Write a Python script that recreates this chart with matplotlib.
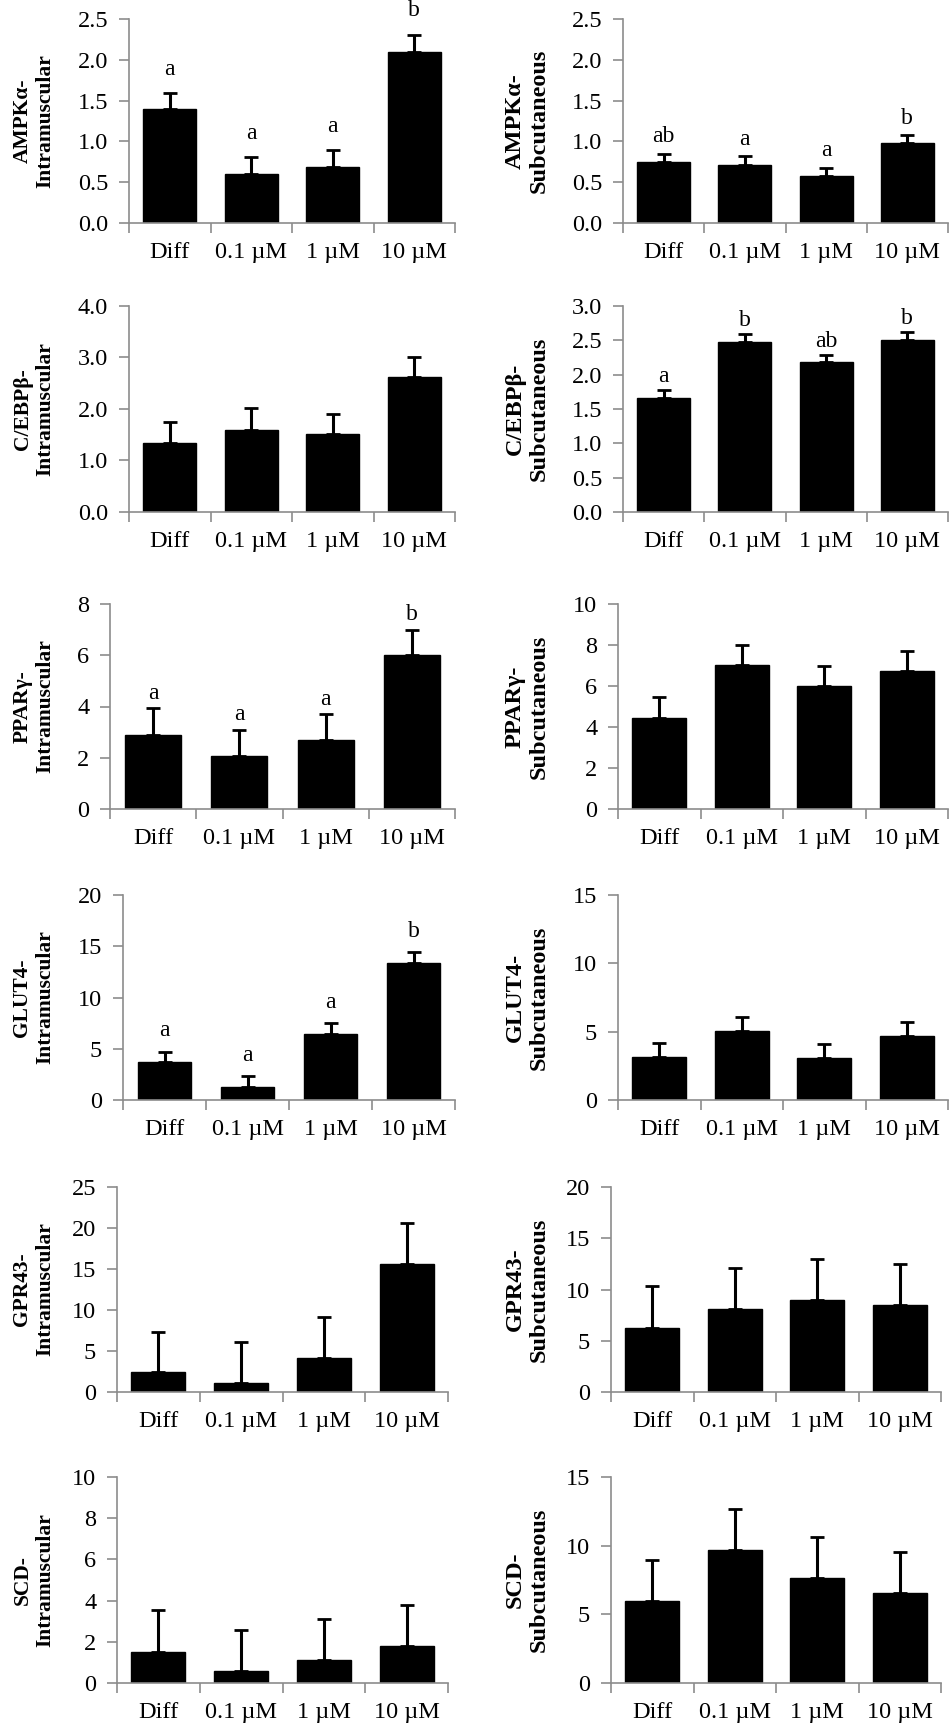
"""Relative mRNA expression in intramuscular and subcutaneous adipocytes.

Six genes, two depots, four treatments (Diff, 0.1, 1, 10 uM).
Bars are means, whiskers show +SEM, letters mark significant groups.
"""
import matplotlib
matplotlib.use('Agg')
import matplotlib.pyplot as plt
from matplotlib.ticker import FixedLocator, FormatStrFormatter

plt.rcParams['font.family'] = ['Liberation Serif', 'DejaVu Serif']

# ---- data -------------------------------------------------------------
treatments = ['Diff', '0.1 µM', '1 µM', '10 µM']

ampk_im = [1.40, 0.60, 0.69, 2.10]
ampk_im_sem = [0.19, 0.21, 0.20, 0.21]
ampk_im_sig = ['a', 'a', 'a', 'b']
ampk_sc = [0.75, 0.71, 0.58, 0.98]
ampk_sc_sem = [0.10, 0.11, 0.10, 0.10]
ampk_sc_sig = ['ab', 'a', 'a', 'b']

cebpb_im = [1.34, 1.60, 1.51, 2.63]
cebpb_im_sem = [0.41, 0.42, 0.40, 0.38]
cebpb_sc = [1.66, 2.48, 2.19, 2.51]
cebpb_sc_sem = [0.11, 0.11, 0.09, 0.11]
cebpb_sc_sig = ['a', 'b', 'ab', 'b']

pparg_im = [2.90, 2.08, 2.68, 6.00]
pparg_im_sem = [1.03, 1.00, 1.01, 1.00]
pparg_im_sig = ['a', 'a', 'a', 'b']
pparg_sc = [4.43, 7.01, 5.99, 6.75]
pparg_sc_sem = [1.01, 0.98, 0.98, 0.97]

glut4_im = [3.71, 1.27, 6.47, 13.37]
glut4_im_sem = [1.01, 1.04, 1.01, 1.03]
glut4_im_sig = ['a', 'a', 'a', 'b']
glut4_sc = [3.14, 5.04, 3.04, 4.70]
glut4_sc_sem = [1.02, 1.05, 1.03, 1.02]

gpr43_im = [2.43, 1.05, 4.09, 15.60]
gpr43_im_sem = [4.94, 4.99, 5.07, 5.02]
gpr43_sc = [6.28, 8.11, 8.98, 8.51]
gpr43_sc_sem = [4.02, 3.99, 4.02, 3.95]

scd_im = [1.50, 0.59, 1.11, 1.81]
scd_im_sem = [2.02, 2.00, 2.00, 1.98]
scd_sc = [6.00, 9.68, 7.63, 6.56]
scd_sc_sem = [2.97, 3.01, 2.99, 2.99]

# y-axis ticks per panel
ticks_ampk = [0.0, 0.5, 1.0, 1.5, 2.0, 2.5]
ticks_cebpb_im = [0.0, 1.0, 2.0, 3.0, 4.0]
ticks_cebpb_sc = [0.0, 0.5, 1.0, 1.5, 2.0, 2.5, 3.0]
ticks_pparg_im = [0, 2, 4, 6, 8]
ticks_pparg_sc = [0, 2, 4, 6, 8, 10]
ticks_glut4_im = [0, 5, 10, 15, 20]
ticks_glut4_sc = [0, 5, 10, 15]
ticks_gpr43_im = [0, 5, 10, 15, 20, 25]
ticks_gpr43_sc = [0, 5, 10, 15, 20]
ticks_scd_im = [0, 2, 4, 6, 8, 10]
ticks_scd_sc = [0, 5, 10, 15]

# (label, means, sem, letters, yticks, tick format, letter gap in pt)
left_panels = [
    ('AMPKα-\nIntramuscular', ampk_im, ampk_im_sem, ampk_im_sig, ticks_ampk, '%.1f', 17),
    ('C/EBPβ-\nIntramuscular', cebpb_im, cebpb_im_sem, None, ticks_cebpb_im, '%.1f', 0),
    ('PPARγ-\nIntramuscular', pparg_im, pparg_im_sem, pparg_im_sig, ticks_pparg_im, '%d', 11),
    ('GLUT4-\nIntramuscular', glut4_im, glut4_im_sem, glut4_im_sig, ticks_glut4_im, '%d', 15),
    ('GPR43-\nIntramuscular', gpr43_im, gpr43_im_sem, None, ticks_gpr43_im, '%d', 0),
    ('SCD-\nIntramuscular', scd_im, scd_im_sem, None, ticks_scd_im, '%d', 0),
]
right_panels = [
    ('AMPKα-\nSubcutaneous', ampk_sc, ampk_sc_sem, ampk_sc_sig, ticks_ampk, '%.1f', 12),
    ('C/EBPβ-\nSubcutaneous', cebpb_sc, cebpb_sc_sem, cebpb_sc_sig, ticks_cebpb_sc, '%.1f', 10),
    ('PPARγ-\nSubcutaneous', pparg_sc, pparg_sc_sem, None, ticks_pparg_sc, '%d', 0),
    ('GLUT4-\nSubcutaneous', glut4_sc, glut4_sc_sem, None, ticks_glut4_sc, '%d', 0),
    ('GPR43-\nSubcutaneous', gpr43_sc, gpr43_sc_sem, None, ticks_gpr43_sc, '%d', 0),
    ('SCD-\nSubcutaneous', scd_sc, scd_sc_sem, None, ticks_scd_sc, '%d', 0),
]

# ---- layout (pixels on a 949 x 1728 canvas) -----------------------------
W, H = 949, 1728
row_top = [19, 306, 604, 895, 1187, 1477]
row_bottom = [223, 512, 809, 1100, 1392, 1683]
left_x0 = [129, 129, 110, 123, 117, 117]
left_x1 = [455, 455, 455, 455, 448, 448]
right_x0 = [623, 623, 618, 618, 611, 611]
right_x1 = [948, 948, 948, 948, 941, 941]

GREY = '#8c8c8c'


def draw_panel(fig, box, panel, label_x, label_size):
    label, means, sem, letters, yticks, fmt, gap = panel
    x0, x1, top, bottom = box
    ax = fig.add_axes([x0 / W, 1 - bottom / H, (x1 - x0) / W, (bottom - top) / H])

    xs = list(range(len(treatments)))
    ax.bar(xs, means, width=0.65, color='black', edgecolor='black', zorder=2)
    ax.errorbar(xs, means, yerr=[[0] * len(sem), sem], fmt='none',
                ecolor='black', elinewidth=2.2, capsize=4.7, capthick=2.0, zorder=3)

    if letters:
        for x, m, s, t in zip(xs, means, sem, letters):
            ax.annotate(t, xy=(x, m + s), xytext=(0, gap), textcoords='offset points',
                        ha='center', va='center', fontsize=17)

    ax.set_xlim(-0.5, len(treatments) - 0.5)
    ax.set_ylim(yticks[0], yticks[-1])

    # category boundaries carry the tick marks, labels sit between them
    ax.xaxis.set_major_locator(FixedLocator([i - 0.5 for i in range(len(treatments) + 1)]))
    ax.xaxis.set_major_formatter(plt.NullFormatter())
    ax.xaxis.set_minor_locator(FixedLocator(xs))
    ax.set_xticklabels(treatments, minor=True)
    ax.tick_params(axis='x', which='major', direction='out', length=7, width=1.2, color=GREY)
    ax.tick_params(axis='x', which='minor', length=0, pad=14, labelsize=17.5)

    ax.set_yticks(yticks)
    ax.yaxis.set_major_formatter(FormatStrFormatter(fmt))
    ax.tick_params(axis='y', direction='out', length=7, width=1.2, color=GREY,
                   pad=8, labelsize=17.5)

    for side in ('top', 'right'):
        ax.spines[side].set_visible(False)
    for side in ('left', 'bottom'):
        ax.spines[side].set_color(GREY)
        ax.spines[side].set_linewidth(1.2)

    fig.text(label_x / W, 1 - (top + bottom) / 2 / H, label, rotation=90,
             ha='center', va='center', multialignment='center',
             fontsize=label_size, fontweight='bold', linespacing=1.2)
    return ax


def main():
    fig = plt.figure(figsize=(W / 100, H / 100), dpi=100)

    for i, panel in enumerate(left_panels):
        draw_panel(fig, (left_x0[i], left_x1[i], row_top[i], row_bottom[i]),
                   panel, 34, 15.5)
    for i, panel in enumerate(right_panels):
        draw_panel(fig, (right_x0[i], right_x1[i], row_top[i], row_bottom[i]),
                   panel, 527, 17.5)

    fig.savefig('out.png', dpi=100, facecolor='white')
    plt.close(fig)


if __name__ == '__main__':
    main()
